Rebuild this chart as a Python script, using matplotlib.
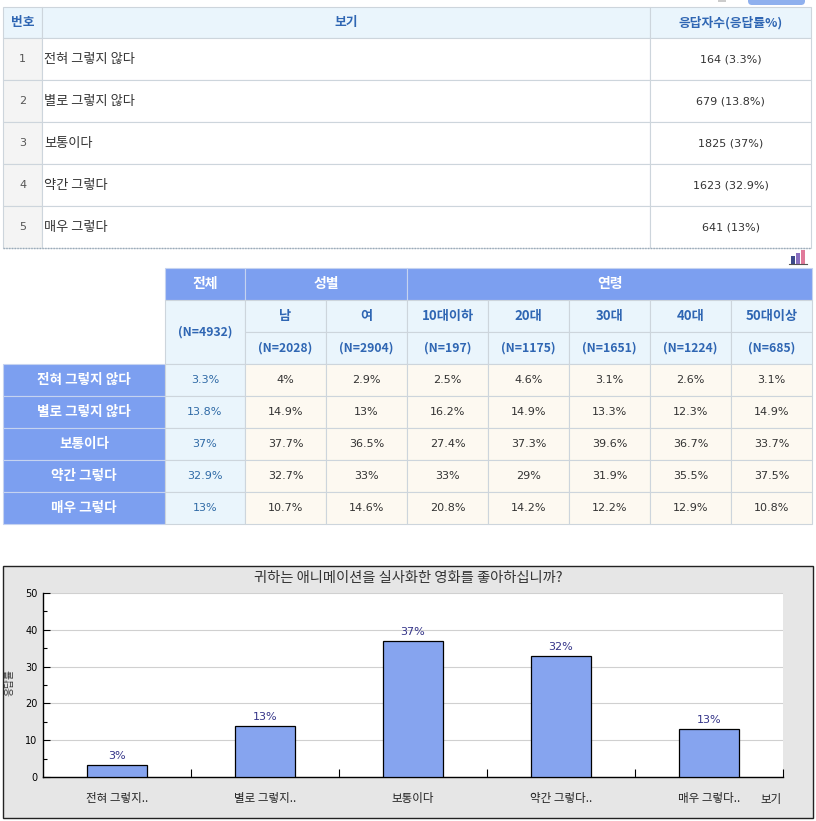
import matplotlib
matplotlib.use("Agg")
import matplotlib.pyplot as plt
from matplotlib.patches import Rectangle, FancyBboxPatch
from matplotlib.ticker import MultipleLocator, FixedLocator

plt.rcParams['font.family'] = ['Noto Sans CJK KR', 'DejaVu Sans']

# -----------------------------
# Data
# -----------------------------
choices = ['전혀 그렇지 않다', '별로 그렇지 않다', '보통이다', '약간 그렇다', '매우 그렇다']
short_labels = ['전혀 그렇지..', '별로 그렇지..', '보통이다', '약간 그렇다..', '매우 그렇다..']
counts = [164, 679, 1825, 1623, 641]
pcts = [3.3, 13.8, 37, 32.9, 13]

group_labels = ['남', '여', '10대이하', '20대', '30대', '40대', '50대이상']
group_n = [2028, 2904, 197, 1175, 1651, 1224, 685]
total_n = 4932
group_pcts = [
    [4, 2.9, 2.5, 4.6, 3.1, 2.6, 3.1],
    [14.9, 13, 16.2, 14.9, 13.3, 12.3, 14.9],
    [37.7, 36.5, 27.4, 37.3, 39.6, 36.7, 33.7],
    [32.7, 33, 33, 29, 31.9, 35.5, 37.5],
    [10.7, 14.6, 20.8, 14.2, 12.2, 12.9, 10.8],
]

title = '귀하는 애니메이션을 실사화한 영화를 좋아하십니까?'

# -----------------------------
# Styles
# -----------------------------
W, H = 816, 821
HEAD_BG = '#eaf5fc'
BLUE_BG = '#7c9ff0'
CREAM = '#fdf9f1'
NUM_BG = '#f4f4f4'
LINE = '#cdd5dc'
HEAD_TXT = '#2f66b3'
TOTAL_TXT = '#2f6aa6'
TXT = '#333333'

fig = plt.figure(figsize=(W / 100, H / 100), dpi=100)
bg = fig.add_axes([0, 0, 1, 1])
bg.set_xlim(0, W)
bg.set_ylim(H, 0)
bg.axis('off')


def cell(x0, y0, x1, y1, face, edge=LINE, lw=0.8):
    bg.add_patch(Rectangle((x0, y0), x1 - x0, y1 - y0, facecolor=face,
                           edgecolor=edge, linewidth=lw))


# -----------------------------
# Top table
# -----------------------------
# partial button at top
bg.add_patch(FancyBboxPatch((748, -8), 57, 13, boxstyle='round,pad=0,rounding_size=4',
                            facecolor='#8fb0ee', edgecolor='none'))
bg.add_patch(Rectangle((718, -4), 8, 6, facecolor='#cccccc', edgecolor='none'))

col_x = [3, 42, 650, 811]
row_y = [7, 38, 80, 122, 164, 206, 248]

for i in range(3):
    cell(col_x[i], row_y[0], col_x[i + 1], row_y[1], HEAD_BG)
headers = ['번호', '보기', '응답자수(응답률%)']
for i, h in enumerate(headers):
    bg.text((col_x[i] + col_x[i + 1]) / 2, (row_y[0] + row_y[1]) / 2, h,
            ha='center', va='center', fontsize=9.2, fontweight='bold', color=HEAD_TXT)

for r, (ch, c, p) in enumerate(zip(choices, counts, pcts)):
    y0, y1 = row_y[r + 1], row_y[r + 2]
    cell(col_x[0], y0, col_x[1], y1, NUM_BG)
    cell(col_x[1], y0, col_x[2], y1, 'white')
    cell(col_x[2], y0, col_x[3], y1, 'white')
    ym = (y0 + y1) / 2
    bg.text((col_x[0] + col_x[1]) / 2, ym, str(r + 1), ha='center', va='center',
            fontsize=8, color='#555555', family='DejaVu Sans')
    bg.text(col_x[1] + 2, ym, ch, ha='left', va='center', fontsize=9.5, color=TXT)
    bg.text((col_x[2] + col_x[3]) / 2, ym, f'{c} ({p:g}%)', ha='center',
            va='center', fontsize=8, color=TXT, family='DejaVu Sans')

bg.plot([col_x[0], col_x[3]], [row_y[-1], row_y[-1]], color='#9aaab8',
        linestyle=(0, (1, 1)), linewidth=1)

# small chart icon
for k, (dx, hh, colr) in enumerate([(0, 8, '#3d4a8a'), (5, 11, '#8a6fc0'), (10, 14, '#e07a9a')]):
    bg.add_patch(Rectangle((791 + dx, 264 - hh), 4, hh, facecolor=colr, edgecolor='none'))
bg.plot([789, 807], [264, 264], color='#555555', linewidth=0.8)

# -----------------------------
# Cross table
# -----------------------------
xc = [3, 165, 245, 326, 407, 488, 569, 650, 731, 812]
yc = [268, 300, 332, 364, 396, 428, 460, 492, 524]

# header row 1
cell(xc[1], yc[0], xc[2], yc[1], BLUE_BG, edge='#c5d3f0')
cell(xc[2], yc[0], xc[4], yc[1], BLUE_BG, edge='#c5d3f0')
cell(xc[4], yc[0], xc[9], yc[1], BLUE_BG, edge='#c5d3f0')
for (a, b), t in zip([(1, 2), (2, 4), (4, 9)], ['전체', '성별', '연령']):
    bg.text((xc[a] + xc[b]) / 2, (yc[0] + yc[1]) / 2, t, ha='center', va='center',
            fontsize=10, fontweight='bold', color='white')

# header rows 2-3
cell(xc[1], yc[1], xc[2], yc[3], HEAD_BG)
bg.text((xc[1] + xc[2]) / 2, (yc[1] + yc[3]) / 2, f'(N={total_n})', ha='center',
        va='center', fontsize=8.8, fontweight='bold', color=HEAD_TXT)
for j, (g, n) in enumerate(zip(group_labels, group_n)):
    x0, x1 = xc[j + 2], xc[j + 3]
    cell(x0, yc[1], x1, yc[2], HEAD_BG)
    cell(x0, yc[2], x1, yc[3], HEAD_BG)
    bg.text((x0 + x1) / 2, (yc[1] + yc[2]) / 2, g, ha='center', va='center',
            fontsize=9.5, fontweight='bold', color=HEAD_TXT)
    bg.text((x0 + x1) / 2, (yc[2] + yc[3]) / 2, f'(N={n})', ha='center', va='center',
            fontsize=8.8, fontweight='bold', color=HEAD_TXT)

# data rows
for r, ch in enumerate(choices):
    y0, y1 = yc[r + 3], yc[r + 4]
    ym = (y0 + y1) / 2
    cell(xc[0], y0, xc[1], y1, BLUE_BG, edge='#c5d3f0')
    bg.text((xc[0] + xc[1]) / 2, ym, ch, ha='center', va='center', fontsize=9.8,
            fontweight='bold', color='white')
    cell(xc[1], y0, xc[2], y1, HEAD_BG)
    bg.text((xc[1] + xc[2]) / 2, ym, f'{pcts[r]:g}%', ha='center', va='center',
            fontsize=8, color=TOTAL_TXT, family='DejaVu Sans')
    for j, v in enumerate(group_pcts[r]):
        x0, x1 = xc[j + 2], xc[j + 3]
        cell(x0, y0, x1, y1, CREAM)
        bg.text((x0 + x1) / 2, ym, f'{v:g}%', ha='center', va='center',
                fontsize=8, color=TXT, family='DejaVu Sans')

# -----------------------------
# Bar chart
# -----------------------------
cell(3, 566, 813, 818, '#e6e6e6', edge='#222222', lw=1)
bg.text(408, 578, title, ha='center', va='center', fontsize=10.3, color='#333333')
bg.text(9, 683, '응답률', ha='center', va='center', rotation=90, fontsize=7,
        color='#333333')
bg.text(782, 799, '보기', ha='right', va='center', fontsize=8.3, color='#222222')

px0, px1, py0, py1 = 43, 783, 593, 777
ax = fig.add_axes([px0 / W, 1 - py1 / H, (px1 - px0) / W, (py1 - py0) / H])
ax.set_facecolor('white')
x = list(range(len(pcts)))
ax.bar(x, pcts, width=0.405, color='#86a4ef', edgecolor='black', linewidth=0.9,
       zorder=3)
for xi, p in zip(x, pcts):
    ax.annotate(f'{int(p)}%', (xi, p), xytext=(0, 3), textcoords='offset points',
                ha='center', va='bottom', fontsize=8, color='#333388',
                family='DejaVu Sans')

ax.set_xlim(-0.5, len(pcts) - 0.5)
ax.set_ylim(0, 50)
ax.yaxis.set_major_locator(MultipleLocator(10))
ax.yaxis.set_minor_locator(MultipleLocator(5))
ax.tick_params(axis='y', which='major', direction='in', length=5, width=0.8,
               labelsize=7, pad=4, colors='black')
ax.tick_params(axis='y', which='minor', direction='in', length=3, width=0.8)
for lab in ax.get_yticklabels():
    lab.set_family('DejaVu Sans')

ax.set_xticks(x)
ax.set_xticklabels(short_labels, fontsize=8.3, color='#222222')
ax.xaxis.set_minor_locator(FixedLocator([i + 0.5 for i in x]))
ax.tick_params(axis='x', which='major', length=0, pad=11)
ax.tick_params(axis='x', which='minor', direction='in', length=6, width=0.8)

ax.yaxis.grid(True, color='#d0d0d0', linewidth=0.8, zorder=0)
ax.get_ygridlines()[-1].set_visible(False)
ax.get_ygridlines()[0].set_visible(False)
ax.set_axisbelow(True)
for s in ['top', 'right']:
    ax.spines[s].set_visible(False)
for s in ['left', 'bottom']:
    ax.spines[s].set_linewidth(1)
    ax.spines[s].set_color('black')

fig.savefig('out.png', dpi=100)
